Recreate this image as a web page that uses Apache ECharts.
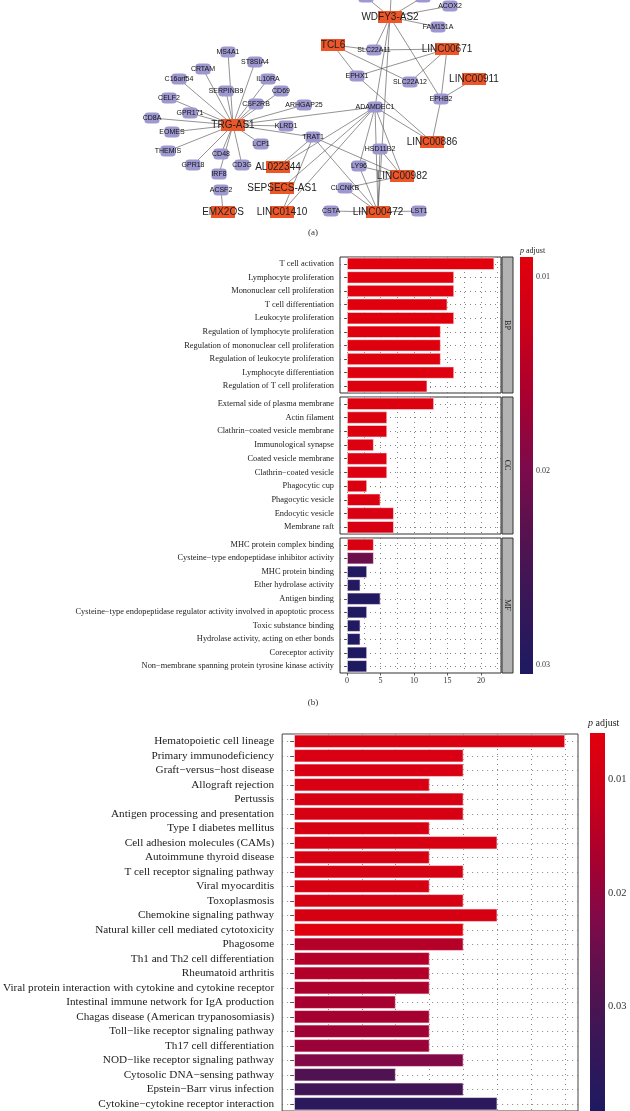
<!DOCTYPE html>
<html>
<head>
<meta charset="utf-8">
<script src="https://cdn.jsdelivr.net/npm/echarts@6/dist/echarts.min.js"></script>
<style>html,body{margin:0;padding:0;background:#fff}#c{width:630px;height:1111px}</style>
</head>
<body>
<div id="c"></div>
<script>
// ---------- (a) network data ----------
const lncNames = ['WDFY3-AS2','TCL6','LINC00671','LINC00911','LINC00886','LINC00982','AL022344','SEPSECS-AS1','LINC01410','LINC00472','TRG-AS1','EMX2OS'];
const lncX = [390,333,447,474,432,402,278,282,282,378,233,223];
const lncY = [17,45,49,79,142,176,167,188,212,212,125,212];

const mrnaNames = ['ACOX2','FAM151A','SLC22A11','EPHX1','SLC22A12','EPHB2','ADAMDEC1','TRAT1','HSD11B2','LY96','CLCNKB','CSTA','LST1',
  'MS4A1','ST8SIA4','CRTAM','C16orf54','IL10RA','SERPINB9','CD69','CELF2','CSF2RB','ARHGAP25','GPR171','CD8A','KLRD1','EOMES','LCP1','THEMIS','CD48','GPR18','CD3G','IRF8','ACSF2'];
const mrnaX = [450,438,374,357,410,441,375,313,380,359,345,331,419,
  228,255,203,179,268,226,281,169,256,304,190,152,286,172,261,168,221,193,242,219,221];
const mrnaY = [6,27,50,76,82,99,107,137,149,166,188,211,211,
  52,62,69,79,79,91,91,98,104,105,113,118,126,132,144,151,154,165,165,174,190];

// partially visible (cut at top edge) nodes
const hiddenNames = ['top1','top2','top3'];
const hiddenX = [366,423,392];
const hiddenY = [-3,-3,-22];

const edges = [
  ['TRG-AS1','MS4A1'],['TRG-AS1','ST8SIA4'],['TRG-AS1','CRTAM'],['TRG-AS1','C16orf54'],['TRG-AS1','IL10RA'],
  ['TRG-AS1','SERPINB9'],['TRG-AS1','CD69'],['TRG-AS1','CELF2'],['TRG-AS1','CSF2RB'],['TRG-AS1','ARHGAP25'],
  ['TRG-AS1','GPR171'],['TRG-AS1','CD8A'],['TRG-AS1','KLRD1'],['TRG-AS1','EOMES'],['TRG-AS1','LCP1'],
  ['TRG-AS1','THEMIS'],['TRG-AS1','CD48'],['TRG-AS1','GPR18'],['TRG-AS1','CD3G'],['TRG-AS1','IRF8'],
  ['TRG-AS1','TRAT1'],['TRG-AS1','ADAMDEC1'],['EMX2OS','ACSF2'],
  ['WDFY3-AS2','top1'],['WDFY3-AS2','top2'],['WDFY3-AS2','top3'],['WDFY3-AS2','ACOX2'],['WDFY3-AS2','FAM151A'],
  ['WDFY3-AS2','SLC22A11'],['WDFY3-AS2','ADAMDEC1'],['WDFY3-AS2','LINC00472'],['WDFY3-AS2','EPHB2'],
  ['TCL6','SLC22A11'],['TCL6','EPHX1'],['TCL6','SLC22A12'],
  ['LINC00671','SLC22A11'],['LINC00671','EPHX1'],['LINC00671','SLC22A12'],['LINC00671','EPHB2'],
  ['LINC00911','EPHB2'],['LINC00886','EPHB2'],['LINC00886','EPHX1'],['LINC00886','ADAMDEC1'],
  ['ADAMDEC1','AL022344'],['ADAMDEC1','SEPSECS-AS1'],['ADAMDEC1','LINC01410'],['ADAMDEC1','LINC00472'],
  ['ADAMDEC1','LINC00982'],['ADAMDEC1','LY96'],
  ['TRAT1','AL022344'],['TRAT1','LINC01410'],['TRAT1','LINC00472'],['TRAT1','LINC00982'],
  ['LINC00472','CSTA'],['LINC00472','LST1'],['LINC00472','CLCNKB'],['LINC00472','LY96'],['LINC00472','HSD11B2'],
  ['LINC00982','LY96'],['LINC00982','CLCNKB'],['LINC00982','HSD11B2']
];

// ---------- (b) GO enrichment ----------
const bpTerms = ['T cell activation','Lymphocyte proliferation','Mononuclear cell proliferation','T cell differentiation','Leukocyte proliferation','Regulation of lymphocyte proliferation','Regulation of mononuclear cell proliferation','Regulation of leukocyte proliferation','Lymphocyte differentiation','Regulation of T cell proliferation'];
const bpCounts = [22,16,16,15,16,14,14,14,16,12];
const bpP = [0.0090,0.0092,0.0092,0.0093,0.0093,0.0095,0.0095,0.0095,0.0096,0.0098];

const ccTerms = ['External side of plasma membrane','Actin filament','Clathrin\u2212coated vesicle membrane','Immunological synapse','Coated vesicle membrane','Clathrin\u2212coated vesicle','Phagocytic cup','Phagocytic vesicle','Endocytic vesicle','Membrane raft'];
const ccCounts = [13,6,6,4,6,6,3,5,7,7];
const ccP = [0.0098,0.0099,0.0099,0.0100,0.0100,0.0100,0.0101,0.0102,0.0106,0.0108];

const mfTerms = ['MHC protein complex binding','Cysteine\u2212type endopeptidase inhibitor activity','MHC protein binding','Ether hydrolase activity','Antigen binding','Cysteine\u2212type endopeptidase regulator activity involved in apoptotic process','Toxic substance binding','Hydrolase activity, acting on ether bonds','Coreceptor activity','Non\u2212membrane spanning protein tyrosine kinase activity'];
const mfCounts = [4,4,3,2,5,3,2,2,3,3];
const mfP = [0.0104,0.0214,0.0296,0.0298,0.0299,0.0300,0.0302,0.0302,0.0303,0.0304];

const goPMin = 0.00897, goPMax = 0.03046;
const goTicks = [0,5,10,15,20];
const goGridTicks = [0,2.5,5,7.5,10,12.5,15,17.5,20,22.5];
const pTicks = [0.01,0.02,0.03];

// ---------- (c) KEGG enrichment ----------
const keggTerms = ['Hematopoietic cell lineage','Primary immunodeficiency','Graft\u2212versus\u2212host disease','Allograft rejection','Pertussis','Antigen processing and presentation','Type I diabetes mellitus','Cell adhesion molecules (CAMs)','Autoimmune thyroid disease','T cell receptor signaling pathway','Viral myocarditis','Toxoplasmosis','Chemokine signaling pathway','Natural killer cell mediated cytotoxicity','Phagosome','Th1 and Th2 cell differentiation','Rheumatoid arthritis','Viral protein interaction with cytokine and cytokine receptor','Intestinal immune network for IgA production','Chagas disease (American trypanosomiasis)','Toll\u2212like receptor signaling pathway','Th17 cell differentiation','NOD\u2212like receptor signaling pathway','Cytosolic DNA\u2212sensing pathway','Epstein\u2212Barr virus infection','Cytokine\u2212cytokine receptor interaction'];
const keggCounts = [8,5,5,4,5,5,4,6,4,5,4,5,6,5,5,4,4,4,3,4,4,4,5,3,5,6];
const keggP = [0.0080,0.0084,0.0084,0.0085,0.0086,0.0086,0.0086,0.0087,0.0087,0.0088,0.0088,0.0088,0.0088,0.0062,0.0150,0.0152,0.0155,0.0164,0.0172,0.0175,0.0182,0.0188,0.0222,0.0293,0.0319,0.0359];
const keggPMin = 0.00587, keggPMax = 0.0393;
const keggGridTicks = [1,2,3,4,5,6,7,8];
const keggTicksP = [0.01,0.02,0.03];

const pColors = ['#E2000C','#CC0019','#A8002F','#7E0A4A','#55124F','#361758','#1D1A62'];

// ---------- build ----------
const chart = echarts.init(document.getElementById('c'), null, {renderer:'canvas', width:630, height:1111});

const nodes = [];
lncNames.forEach((n,i)=>nodes.push({name:n, value:[lncX[i],lncY[i]], symbol:'rect', symbolSize:[24,12],
  itemStyle:{color:'#EE5527'}, label:{show:true, position:'inside', fontSize:10, color:'#222', fontFamily:'Liberation Sans'}}));
mrnaNames.forEach((n,i)=>nodes.push({name:n, value:[mrnaX[i],mrnaY[i]], symbol:'roundRect', symbolSize:[15,11],
  itemStyle:{color:'#9D98CF'}, label:{show:true, position:'inside', fontSize:7, color:'#111', fontFamily:'Liberation Sans'}}));
hiddenNames.forEach((n,i)=>nodes.push({name:n, value:[hiddenX[i],hiddenY[i]], symbol:'roundRect', symbolSize:[15,11],
  itemStyle:{color:'#9D98CF'}, label:{show:false}}));
const links = edges.map(e=>({source:e[0], target:e[1]}));

const serif = 'Liberation Serif';
const dotted = {type:[1,4], color:'#666', width:0.8};

function catAxis(grid, data, fs, tickLen, margin){
  return {type:'category', gridIndex:grid, data:data, inverse:true,
    axisLine:{show:false},
    axisTick:{show:true, length:tickLen, alignWithLabel:true, lineStyle:{color:'#333', width:0.8}},
    axisLabel:{interval:0, fontSize:fs, fontFamily:serif, color:'#222', margin:margin},
    splitLine:{show:true, alignWithLabel:true, lineStyle:dotted}};
}
function gridXAxis(grid, min, max, ticks){
  return {type:'value', gridIndex:grid, min:min, max:max, position:'top',
    axisLine:{show:false}, axisLabel:{show:false},
    axisTick:{show:false, customValues:ticks},
    splitLine:{show:true, lineStyle:dotted}};
}
function cbarY(grid, min, max, ticks, fs){
  return {type:'value', gridIndex:grid, min:min, max:max, inverse:true, position:'right',
    axisLine:{show:false}, splitLine:{show:false},
    axisTick:{show:true, length:3, customValues:ticks, lineStyle:{color:'#333', width:0.8}},
    axisLabel:{show:true, customValues:ticks, fontSize:fs, fontFamily:serif, color:'#333', margin:3,
      formatter:v=>v.toFixed(2)}};
}
function cbarRender(params, api){
  const a = api.coord([0, api.value(0)]);
  const b = api.coord([1, api.value(1)]);
  return {type:'rect', shape:{x:a[0], y:a[1], width:b[0]-a[0], height:b[1]-a[1]},
    style:{fill:new echarts.graphic.LinearGradient(0,0,0,1, pColors.map((c,i)=>({offset:i/(pColors.length-1), color:c})))}};
}
const barStyle = {borderColor:'rgba(255,235,240,0.75)', borderWidth:0.8};

const option = {
  animation:false,
  backgroundColor:'#fff',
  grid:[
    {left:0, top:0, width:630, height:230},
    {left:340, top:257, width:161, height:136, show:true, borderColor:'#333', borderWidth:1, backgroundColor:'#fff'},
    {left:340, top:397, width:161, height:137, show:true, borderColor:'#333', borderWidth:1, backgroundColor:'#fff'},
    {left:340, top:538, width:161, height:135, show:true, borderColor:'#333', borderWidth:1, backgroundColor:'#fff'},
    {left:520, top:257, width:13, height:417},
    {left:281, top:734, width:297, height:378, show:true, borderColor:'#444', borderWidth:1, backgroundColor:'#fff'},
    {left:590, top:733, width:15, height:393}
  ],
  xAxis:[
    {type:'value', gridIndex:0, min:0, max:630, show:false},
    gridXAxis(1,-1.05,23,goGridTicks),
    gridXAxis(2,-1.05,23,goGridTicks),
    gridXAxis(3,-1.05,23,goGridTicks),
    {type:'value', gridIndex:3, min:-1.05, max:23, position:'bottom',
      axisLine:{show:false}, splitLine:{show:false},
      axisTick:{show:true, length:2.5, customValues:goTicks, lineStyle:{color:'#333', width:0.8}},
      axisLabel:{show:true, customValues:goTicks, fontSize:8, fontFamily:serif, color:'#333', margin:4}},
    {type:'value', gridIndex:4, min:0, max:1, show:false},
    gridXAxis(5,-0.353,8.38,keggGridTicks),
    {type:'value', gridIndex:6, min:0, max:1, show:false}
  ],
  yAxis:[
    {type:'value', gridIndex:0, min:0, max:230, inverse:true, show:false},
    catAxis(1,bpTerms,8.4,3,6),
    catAxis(2,ccTerms,8.4,3,6),
    catAxis(3,mfTerms,8.4,3,6),
    cbarY(4,goPMin,goPMax,pTicks,8),
    catAxis(5,keggTerms,11.2,4,8),
    cbarY(6,keggPMin,keggPMax,keggTicksP,10.5)
  ],
  visualMap:[
    {type:'continuous', show:false, min:goPMin, max:goPMax, dimension:2, seriesIndex:[1,2,3], inRange:{color:pColors}},
    {type:'continuous', show:false, min:keggPMin, max:keggPMax, dimension:2, seriesIndex:[5], inRange:{color:pColors}}
  ],
  series:[
    {type:'graph', coordinateSystem:'cartesian2d', xAxisIndex:0, yAxisIndex:0, layout:'none', silent:true,
      data:nodes, links:links, lineStyle:{color:'#4a4a4a', width:0.6, opacity:1, curveness:0},
      emphasis:{disabled:true}},
    {type:'bar', xAxisIndex:1, yAxisIndex:1, barCategoryGap:'10%', encode:{x:0,y:1},
      data:bpTerms.map((t,i)=>[bpCounts[i],t,bpP[i]]), itemStyle:barStyle},
    {type:'bar', xAxisIndex:2, yAxisIndex:2, barCategoryGap:'10%', encode:{x:0,y:1},
      data:ccTerms.map((t,i)=>[ccCounts[i],t,ccP[i]]), itemStyle:barStyle},
    {type:'bar', xAxisIndex:3, yAxisIndex:3, barCategoryGap:'10%', encode:{x:0,y:1},
      data:mfTerms.map((t,i)=>[mfCounts[i],t,mfP[i]]), itemStyle:barStyle},
    {type:'custom', xAxisIndex:5, yAxisIndex:4, renderItem:cbarRender, data:[[goPMin,goPMax]], encode:{y:[0,1]}},
    {type:'bar', xAxisIndex:6, yAxisIndex:5, barCategoryGap:'9%', encode:{x:0,y:1},
      data:keggTerms.map((t,i)=>[keggCounts[i],t,keggP[i]]), itemStyle:barStyle},
    {type:'custom', xAxisIndex:7, yAxisIndex:6, renderItem:cbarRender, data:[[keggPMin,keggPMax]], encode:{y:[0,1]}}
  ],
  graphic:[
    {type:'text', x:313, y:233, style:{text:'(a)', font:'9px Liberation Serif', fill:'#333', align:'center', verticalAlign:'middle'}},
    {type:'text', x:313, y:703, style:{text:'(b)', font:'9px Liberation Serif', fill:'#333', align:'center', verticalAlign:'middle'}},
    {type:'rect', shape:{x:502, y:257, width:11, height:136}, style:{fill:'#B3B3B3', stroke:'#333', lineWidth:1}},
    {type:'rect', shape:{x:502, y:397, width:11, height:137}, style:{fill:'#B3B3B3', stroke:'#333', lineWidth:1}},
    {type:'rect', shape:{x:502, y:538, width:11, height:135}, style:{fill:'#B3B3B3', stroke:'#333', lineWidth:1}},
    {type:'text', x:507.5, y:325, rotation:-Math.PI/2, style:{text:'BP', font:'8px Liberation Serif', fill:'#222', align:'center', verticalAlign:'middle'}},
    {type:'text', x:507.5, y:465, rotation:-Math.PI/2, style:{text:'CC', font:'8px Liberation Serif', fill:'#222', align:'center', verticalAlign:'middle'}},
    {type:'text', x:507.5, y:605, rotation:-Math.PI/2, style:{text:'MF', font:'8px Liberation Serif', fill:'#222', align:'center', verticalAlign:'middle'}},
    {type:'text', x:520, y:251, style:{text:'{i|p} adjust', font:'8px Liberation Serif', fill:'#222', verticalAlign:'middle',
      rich:{i:{fontStyle:'italic', fontSize:8, fontFamily:'Liberation Serif'}}}},
    {type:'text', x:588, y:723, style:{text:'{i|p} adjust', font:'10px Liberation Serif', fill:'#222', verticalAlign:'middle',
      rich:{i:{fontStyle:'italic', fontSize:10, fontFamily:'Liberation Serif'}}}}
  ]
};
chart.setOption(option);
</script>
</body>
</html>
